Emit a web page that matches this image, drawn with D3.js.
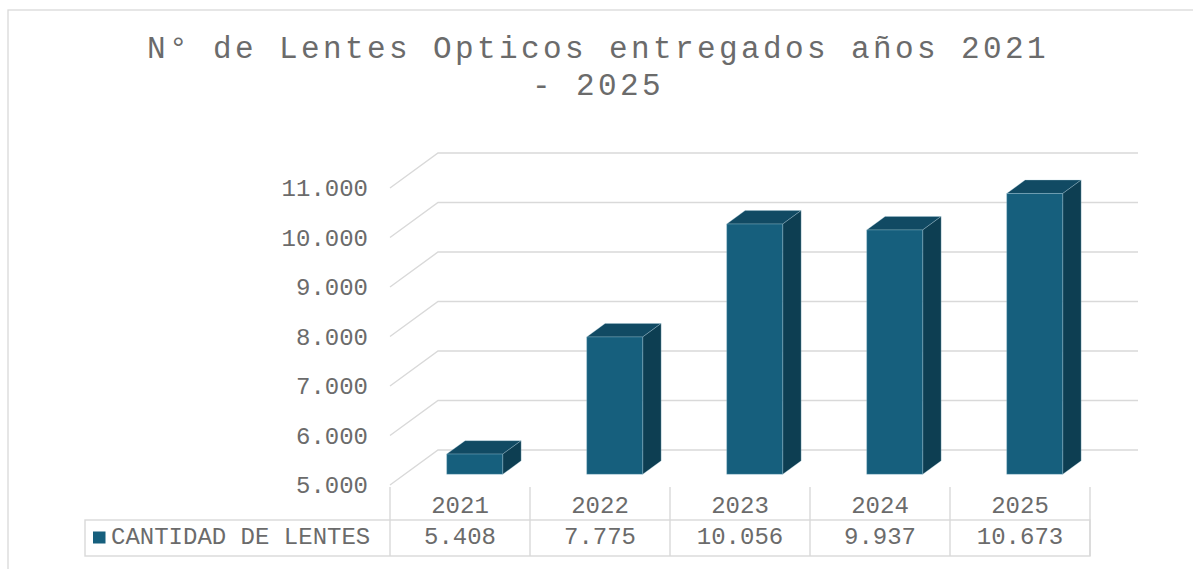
<!DOCTYPE html>
<html>
<head>
<meta charset="utf-8">
<script src="https://cdn.jsdelivr.net/npm/d3@7"></script>
<style>
  body { margin: 0; background: #fff; }
  text { font-family: "Courier New", "Nimbus Mono PS", "FreeMono", "Liberation Mono", monospace; fill: #6b6b6b; }
</style>
</head>
<body>
<div id="chart"></div>
<script>
// Data
const years = ['2021', '2022', '2023', '2024', '2025'];
const lentes = [5408, 7775, 10056, 9937, 10673];
const seriesName = 'CANTIDAD DE LENTES';
const titleLines = ['N° de Lentes Opticos entregados años 2021', '- 2025'];

const width = 1193, height = 569;

// 3D oblique projection: depth goes from 0 (front) to 1 (back wall)
const depthDx = 48, depthDy = -35;
const barFront = 0.306, barBack = 0.69;

const x = d3.scaleBand().domain(years).range([390, 1090]);
const y = d3.scaleLinear().domain([5000, 11000]).range([485, 188]);

const fmt = d3.formatLocale({ decimal: ',', thousands: '.', grouping: [3], currency: ['', ''] }).format(',d');

function proj(xf, v, d) {
    return [xf + d * depthDx, y(v) + d * depthDy];
}

const svg = d3.select('#chart')
    .append('svg')
    .attr('width', width)
    .attr('height', height);

// Chart border
svg.append('rect')
    .attr('x', 8).attr('y', 10)
    .attr('width', 1200).attr('height', 600)
    .attr('fill', 'none')
    .attr('stroke', '#d9d9d9')
    .attr('stroke-width', 1.3);

// Title
svg.append('g')
    .selectAll('text')
    .data(titleLines)
    .join('text')
    .attr('x', 598)
    .attr('y', (d, i) => 58 + i * 37)
    .attr('text-anchor', 'middle')
    .style('font-size', '31px')
    .style('letter-spacing', '3.4px')
    .text(d => d);

// Gridlines: side wall diagonal + back wall horizontal
const ticks = y.ticks(6);
const grid = svg.append('g')
    .attr('fill', 'none')
    .attr('stroke', '#d9d9d9')
    .attr('stroke-width', 1.4);

grid.selectAll('path')
    .data(ticks)
    .join('path')
    .attr('d', v => {
        const a = proj(x.range()[0], v, 0);
        const b = proj(x.range()[0], v, 1);
        const c = proj(x.range()[1], v, 1);
        return d3.line()([a, b, c]);
    });

// Y axis labels
svg.append('g')
    .selectAll('text')
    .data(ticks)
    .join('text')
    .attr('x', 368)
    .attr('y', v => y(v) + 8)
    .attr('text-anchor', 'end')
    .style('font-size', '24px')
    .text(v => fmt(v));

// Bars
const bw = x.bandwidth() * 0.4;
const bars = svg.append('g')
    .selectAll('g')
    .data(years.map((yr, i) => ({ yr, v: lentes[i] })))
    .join('g')
    .attr('stroke', 'rgba(170,205,220,0.45)')
    .attr('stroke-width', 0.7)
    .attr('stroke-linejoin', 'round');

const x0 = d => x(d.yr) + (x.bandwidth() - bw) / 2;

// top face
bars.append('path')
    .attr('fill', '#114a63')
    .attr('d', d => d3.line()([
        proj(x0(d), d.v, barFront),
        proj(x0(d) + bw, d.v, barFront),
        proj(x0(d) + bw, d.v, barBack),
        proj(x0(d), d.v, barBack)
    ]) + 'Z');

// side face
bars.append('path')
    .attr('fill', '#0d3e52')
    .attr('d', d => d3.line()([
        proj(x0(d) + bw, d.v, barFront),
        proj(x0(d) + bw, d.v, barBack),
        proj(x0(d) + bw, 5000, barBack),
        proj(x0(d) + bw, 5000, barFront)
    ]) + 'Z');

// front face
bars.append('path')
    .attr('fill', '#165f7d')
    .attr('d', d => d3.line()([
        proj(x0(d), d.v, barFront),
        proj(x0(d) + bw, d.v, barFront),
        proj(x0(d) + bw, 5000, barFront),
        proj(x0(d), 5000, barFront)
    ]) + 'Z');

// Data table
const rowTop = 520, rowBottom = 556, catTop = 487;
const table = svg.append('g')
    .attr('stroke', '#d9d9d9')
    .attr('stroke-width', 1.4)
    .attr('fill', 'none');

table.append('rect')
    .attr('x', 85).attr('y', rowTop)
    .attr('width', x.range()[1] - 85)
    .attr('height', rowBottom - rowTop);

const colEdges = years.map(yr => x(yr)).concat([x.range()[1]]);
table.selectAll('line.col')
    .data(colEdges)
    .join('line')
    .attr('class', 'col')
    .attr('x1', d => d).attr('x2', d => d)
    .attr('y1', catTop).attr('y2', rowBottom);

// Category labels
svg.append('g')
    .selectAll('text')
    .data(years)
    .join('text')
    .attr('x', d => x(d) + x.bandwidth() / 2)
    .attr('y', 513)
    .attr('text-anchor', 'middle')
    .style('font-size', '24px')
    .text(d => d);

// Value cells
svg.append('g')
    .selectAll('text')
    .data(lentes)
    .join('text')
    .attr('x', (d, i) => x(years[i]) + x.bandwidth() / 2)
    .attr('y', 544)
    .attr('text-anchor', 'middle')
    .style('font-size', '24px')
    .text(d => fmt(d));

// Legend key + series name
svg.append('rect')
    .attr('x', 93).attr('y', 531.5)
    .attr('width', 12.5).attr('height', 12)
    .attr('fill', '#165f7d');

svg.append('text')
    .attr('x', 111)
    .attr('y', 544)
    .style('font-size', '24px')
    .text(seriesName);
</script>
</body>
</html>
